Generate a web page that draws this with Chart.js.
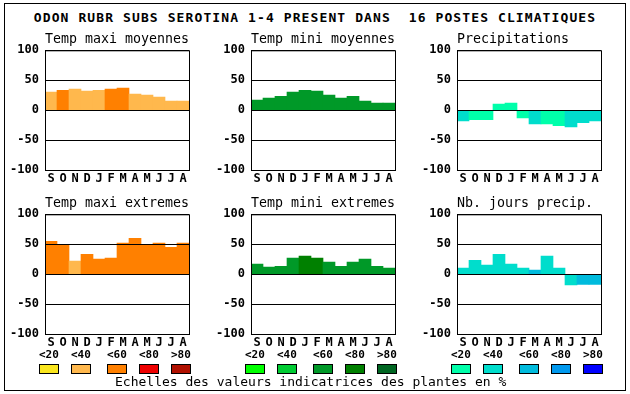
<!DOCTYPE html>
<html>
<head>
<meta charset="utf-8">
<script src="https://cdn.jsdelivr.net/npm/chart.js@4"></script>
<style>
  body { margin: 0; background: #fff; width: 630px; height: 394px; position: relative; overflow: hidden; }
  .frame { position: absolute; left: 4px; top: 3px; width: 622px; height: 388px; box-sizing: border-box; border: 1px solid #000; }
  .txt { position: absolute; font-family: 'DejaVu Sans Mono', monospace; color: #000; white-space: pre; }
  #title { left: 0; width: 630px; text-align: center; top: 11px; font-size: 13px; line-height: 13px; font-weight: bold; letter-spacing: 1.1px; }
  .lab { top: 349px; font-size: 11px; line-height: 11px; font-weight: bold; }
  .sw { position: absolute; top: 364px; width: 20px; height: 10px; box-sizing: border-box; border: 1px solid #000; }
  #foot { left: 115px; top: 375px; font-size: 13px; line-height: 13px; }
  canvas { position: absolute; }
</style>
</head>
<body>
<div class="frame"></div>
<div id="title" class="txt">ODON RUBR SUBS SEROTINA 1-4 PRESENT DANS  16 POSTES CLIMATIQUES</div>
<canvas id="c1" width="205" height="160" style="left:0px;top:30px"></canvas>
<canvas id="c2" width="205" height="160" style="left:206px;top:30px"></canvas>
<canvas id="c3" width="205" height="160" style="left:412px;top:30px"></canvas>
<canvas id="c4" width="205" height="160" style="left:0px;top:194px"></canvas>
<canvas id="c5" width="205" height="160" style="left:206px;top:194px"></canvas>
<canvas id="c6" width="205" height="160" style="left:412px;top:194px"></canvas>
<div id="legend"></div>
<div id="foot" class="txt">Echelles des valeurs indicatrices des plantes en %</div>
<script>
let months = ['S','O','N','D','J','F','M','A','M','J','J','A'];
let yTicks = [100, 50, 0, -50, -100];
let classLabels = ['<20','<40','<60','<80','>80'];

// values per month, and the class (index in the scale) of each bar
let maxMoy      = [30, 33, 35, 32, 33, 35, 37, 27, 25, 22, 15, 15];
let maxMoyClass = [1, 2, 1, 1, 1, 2, 2, 1, 1, 1, 1, 1];
let minMoy      = [17, 20, 23, 30, 33, 32, 25, 20, 23, 15, 12, 12];
let minMoyClass = [2, 2, 2, 2, 2, 2, 2, 2, 2, 2, 2, 2];
let precip      = [-18, -16, -16, 10, 12, -13, -23, -23, -26, -28, -21, -18];
let precipClass = [1, 0, 0, 0, 0, 0, 1, 0, 0, 1, 1, 1];
let maxExt      = [55, 50, 22, 33, 25, 27, 52, 60, 50, 52, 45, 52];
let maxExtClass = [2, 2, 1, 2, 2, 2, 2, 2, 2, 2, 2, 2];
let minExt      = [17, 12, 13, 27, 30, 27, 20, 13, 20, 25, 13, 10];
let minExtClass = [2, 2, 2, 2, 3, 3, 2, 2, 2, 2, 2, 2];
let nbJours     = [10, 23, 15, 33, 17, 10, 7, 30, 10, -18, -17, -17];
let nbJoursClass= [1, 1, 1, 1, 1, 1, 2, 1, 1, 1, 2, 2];

let orangeScale = ['#fae61e', '#ffb84d', '#ff8000', '#ee0000', '#b01000'];
let greenScale  = ['#00ff00', '#00cc33', '#009928', '#008000', '#006622'];
let blueScale   = ['#00ffaa', '#00ddcc', '#00bbdd', '#0099ee', '#0000ff'];

const frame = {
    id: 'frame',
    afterDraw(chart) {
        const a = chart.chartArea, ctx = chart.ctx;
        ctx.save();
        ctx.strokeStyle = '#000';
        ctx.lineWidth = 1;
        ctx.strokeRect(a.left + 0.5, a.top + 0.5, a.right - a.left, a.bottom - a.top);
        ctx.restore();
    }
};

function makePanel(id, title, values, classes, scale) {
    new Chart(document.getElementById(id), {
        type: 'bar',
        data: {
            labels: months,
            datasets: [{
                data: values,
                backgroundColor: classes.map(c => scale[c]),
                borderWidth: 0,
                barPercentage: 1,
                categoryPercentage: 1,
            }]
        },
        options: {
            responsive: false,
            animation: false,
            events: [],
            layout: { padding: { right: 16 } },
            plugins: {
                legend: { display: false },
                tooltip: { enabled: false },
                title: {
                    display: true, text: title, align: 'start', fullSize: false,
                    color: '#000',
                    font: { family: 'DejaVu Sans Mono', size: 13.3, weight: 'normal', lineHeight: 1 },
                    padding: { top: 3, bottom: 4 },
                },
            },
            scales: {
                x: {
                    grid: { display: false, drawTicks: false },
                    border: { display: false },
                    ticks: { color: '#000', padding: 2, autoSkip: false, maxRotation: 0,
                             font: { family: 'DejaVu Sans Mono', size: 12, weight: 'bold' } },
                    afterFit: s => { s.height = 20; },
                },
                y: {
                    min: -100, max: 100,
                    afterBuildTicks: s => { s.ticks = yTicks.map(v => ({ value: v })); },
                    grid: { color: '#000', lineWidth: 1, drawTicks: false, z: 1 },
                    border: { display: false },
                    ticks: { color: '#000', padding: 6,
                             font: { family: 'DejaVu Sans Mono', size: 12, weight: 'bold' } },
                    afterFit: s => { s.width = 45; },
                },
            },
        },
        plugins: [frame],
    });
}

makePanel('c1', 'Temp maxi moyennes', maxMoy, maxMoyClass, orangeScale);
makePanel('c2', 'Temp mini moyennes', minMoy, minMoyClass, greenScale);
makePanel('c3', 'Precipitations', precip, precipClass, blueScale);
makePanel('c4', 'Temp maxi extremes', maxExt, maxExtClass, orangeScale);
makePanel('c5', 'Temp mini extremes', minExt, minExtClass, greenScale);
makePanel('c6', 'Nb. jours precip.', nbJours, nbJoursClass, blueScale);

// colour scales under the panels
let legendX = [[39, 71, 107, 139, 171], [245, 277, 313, 345, 377], [451, 483, 519, 551, 583]];
let legendScales = [orangeScale, greenScale, blueScale];
let leg = document.getElementById('legend');
legendX.forEach((xs, g) => {
    xs.forEach((x, i) => {
        let t = document.createElement('div');
        t.className = 'txt lab';
        t.style.left = x + 'px';
        t.textContent = classLabels[i];
        leg.appendChild(t);
        let b = document.createElement('div');
        b.className = 'sw';
        b.style.left = x + 'px';
        b.style.background = legendScales[g][i];
        leg.appendChild(b);
    });
});
</script>
</body>
</html>
